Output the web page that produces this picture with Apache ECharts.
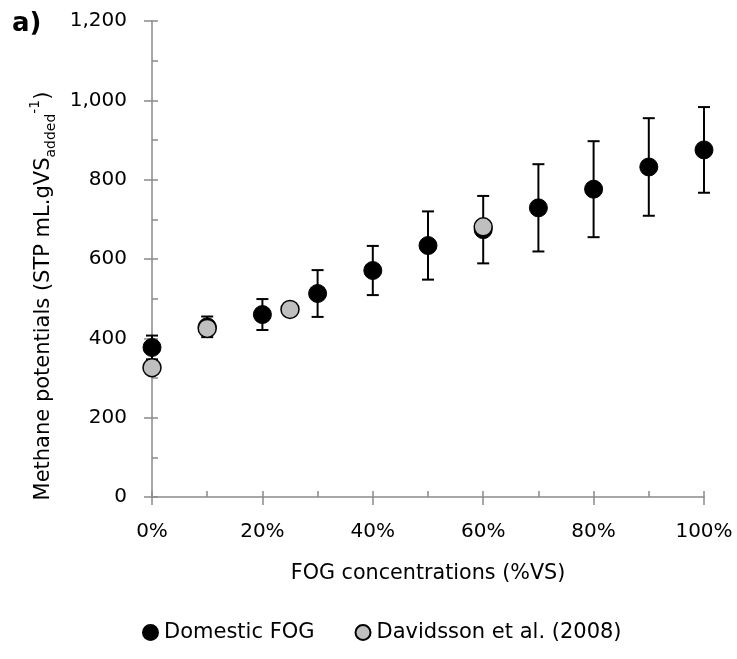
<!DOCTYPE html>
<html>
<head>
<meta charset="utf-8">
<script src="https://cdn.jsdelivr.net/npm/echarts@6/dist/echarts.min.js"></script>
<style>
  html, body { margin: 0; padding: 0; background: #fff; }
  #chart { width: 737px; height: 659px; }
</style>
</head>
<body>
<div id="chart"></div>
<script>
// FOG concentration (fraction of VS) for the domestic FOG series
const conc = [0, 0.1, 0.2, 0.3, 0.4, 0.5, 0.6, 0.7, 0.8, 0.9, 1.0];
// Methane potentials (STP mL.gVS_added^-1) and their error (+/-)
const domestic = [377, 429, 460, 513, 571, 634, 674, 729, 776, 832, 875];
const domesticErr = [30, 26, 39, 59, 62, 86, 85, 110, 121, 123, 108];
// Literature values
const davConc = [0, 0.1, 0.25, 0.6];
const davidsson = [326, 425, 473, 681];

const FONT = '"DejaVu Sans", "Open Sans", sans-serif';
const AXIS_GREY = '#8a8a8a';

const errData = conc.map((c, i) => [c, domestic[i] - domesticErr[i], domestic[i] + domesticErr[i]]);

function renderErr(params, api) {
  const x = api.value(0);
  const lo = api.coord([x, api.value(1)]);
  const hi = api.coord([x, api.value(2)]);
  const cap = 6;
  const style = { stroke: '#000', lineWidth: 2, fill: null };
  return {
    type: 'group',
    children: [
      { type: 'line', shape: { x1: lo[0], y1: lo[1], x2: hi[0], y2: hi[1] }, style },
      { type: 'line', shape: { x1: lo[0] - cap, y1: lo[1], x2: lo[0] + cap, y2: lo[1] }, style },
      { type: 'line', shape: { x1: hi[0] - cap, y1: hi[1], x2: hi[0] + cap, y2: hi[1] }, style }
    ]
  };
}

const chart = echarts.init(document.getElementById('chart'), null, { renderer: 'canvas' });

const baseX = {
  type: 'value', min: 0, max: 1, gridIndex: 0, position: 'bottom', offset: 0,
  splitLine: { show: false }
};
const baseY = {
  type: 'value', min: 0, max: 1200, gridIndex: 0, position: 'left', offset: 0,
  splitLine: { show: false }
};

chart.setOption({
  animation: false,
  textStyle: { fontFamily: FONT, color: '#000' },
  grid: { left: 152, right: 33, top: 21, bottom: 162 },
  graphic: [
    {
      type: 'text', left: 12, top: 11,
      style: { text: 'a)', font: 'bold 26px "DejaVu Sans", sans-serif', fill: '#000' }
    },
    {
      // rotated y-axis title with subscript / superscript
      type: 'text', x: 44, y: 296, rotation: Math.PI / 2,
      style: {
        text: '{n|Methane potentials (STP mL.gVS}{sub|added}{sup|-1}{n|)}',
        align: 'center', verticalAlign: 'middle', fill: '#000',
        rich: {
          n: { fontSize: 21, fontFamily: FONT, lineHeight: 34, verticalAlign: 'middle' },
          sub: { fontSize: 14, fontFamily: FONT, lineHeight: 34, verticalAlign: 'bottom', padding: [0, 0, 3, 0] },
          sup: { fontSize: 14, fontFamily: FONT, lineHeight: 34, verticalAlign: 'top', padding: [1, 0, 0, 0] }
        }
      }
    }
  ],
  xAxis: [
    Object.assign({}, baseX, {
      interval: 0.2,
      axisLine: { show: true, onZero: false, lineStyle: { color: AXIS_GREY, width: 1.5 } },
      axisTick: { show: true, inside: false, length: 8, lineStyle: { color: AXIS_GREY, width: 1.5 } },
      axisLabel: {
        margin: 25, fontSize: 20, color: '#000', fontFamily: FONT,
        formatter: v => Math.round(v * 100) + '%'
      },
      name: 'FOG concentrations (%VS)',
      nameLocation: 'middle', nameGap: 66,
      nameTextStyle: { fontSize: 20.7, color: '#000', fontFamily: FONT }
    }),
    Object.assign({}, baseX, {
      interval: 0.1,
      axisLine: { show: false },
      axisTick: { show: true, inside: true, length: 6, lineStyle: { color: AXIS_GREY, width: 1.5 } },
      axisLabel: { show: false }
    })
  ],
  yAxis: [
    Object.assign({}, baseY, {
      interval: 200,
      axisLine: { show: true, onZero: false, lineStyle: { color: AXIS_GREY, width: 1.5 } },
      axisTick: { show: true, inside: false, length: 8, lineStyle: { color: AXIS_GREY, width: 1.5 } },
      axisLabel: {
        margin: 25, fontSize: 20, color: '#000', fontFamily: FONT,
        formatter: v => v.toLocaleString('en-US')
      }
    }),
    Object.assign({}, baseY, {
      interval: 100,
      axisLine: { show: false },
      axisTick: { show: true, inside: true, length: 6, lineStyle: { color: AXIS_GREY, width: 1.5 } },
      axisLabel: { show: false }
    })
  ],
  legend: {
    top: 622, left: 142, itemGap: 40, itemWidth: 15, itemHeight: 15,
    icon: 'circle', padding: 0,
    textStyle: { fontSize: 21, fontFamily: FONT, color: '#000', padding: [0, 0, 0, 1] },
    data: ['Domestic FOG', 'Davidsson et al. (2008)']
  },
  series: [
    {
      name: 'Domestic FOG error', type: 'custom', xAxisIndex: 0, yAxisIndex: 0,
      renderItem: renderErr, data: errData, z: 2, silent: true,
      encode: { x: 0, y: [1, 2] }
    },
    {
      name: 'Domestic FOG', type: 'scatter', xAxisIndex: 0, yAxisIndex: 0,
      symbol: 'circle', symbolSize: 18, z: 3,
      itemStyle: { color: '#000', borderColor: '#000', borderWidth: 1, opacity: 1 },
      data: conc.map((c, i) => [c, domestic[i]])
    },
    {
      name: 'Davidsson et al. (2008)', type: 'scatter', xAxisIndex: 0, yAxisIndex: 0,
      symbol: 'circle', symbolSize: 18, z: 4,
      itemStyle: { color: '#bfbfbf', borderColor: '#000', borderWidth: 1.5, opacity: 1 },
      data: davConc.map((c, i) => [c, davidsson[i]])
    }
  ]
});
</script>
</body>
</html>
